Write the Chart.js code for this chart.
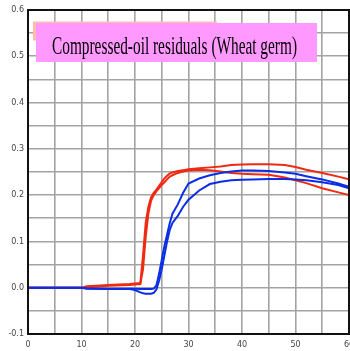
<!DOCTYPE html>
<html>
<head>
<meta charset="utf-8">
<script src="https://cdn.jsdelivr.net/npm/chart.js@4/dist/chart.umd.min.js"></script>
<style>
  html, body { margin: 0; padding: 0; background: #fff; }
  #wrap { width: 350px; height: 351px; position: relative; }
</style>
</head>
<body>
<div id="wrap"><canvas id="oilChart"></canvas></div>
<script>
// time axis shared by all four runs
const timePoints = [0, 10, 11, 15, 19, 20, 21, 21.5, 22, 22.5, 23, 23.5, 24, 24.5, 25, 25.5, 26, 26.5, 27, 28, 29, 30, 32, 34, 36, 38, 40, 42, 45, 48, 50, 52, 55, 58, 60];

// red runs
const redUpper = [0, 0, 0.003, 0.006, 0.008, 0.009, 0.010, 0.07, 0.14, 0.175, 0.195, 0.205, 0.212, 0.220, 0.228, 0.236, 0.242, 0.247, 0.249, 0.252, 0.254, 0.256, 0.258, 0.260, 0.262, 0.265, 0.266, 0.267, 0.267, 0.265, 0.261, 0.255, 0.248, 0.240, 0.234];
const redLower = [0, 0, 0.001, 0.004, 0.006, 0.007, 0.008, 0.04, 0.11, 0.16, 0.188, 0.200, 0.208, 0.215, 0.222, 0.228, 0.234, 0.240, 0.243, 0.248, 0.251, 0.253, 0.255, 0.254, 0.251, 0.248, 0.246, 0.245, 0.244, 0.238, 0.232, 0.226, 0.215, 0.206, 0.200];

// blue runs
const blueUpper = [0, 0, -0.002, -0.003, -0.002, -0.002, -0.003, -0.003, -0.003, -0.003, -0.003, -0.002, 0.005, 0.03, 0.06, 0.09, 0.115, 0.14, 0.16, 0.18, 0.205, 0.225, 0.236, 0.243, 0.248, 0.251, 0.253, 0.253, 0.252, 0.249, 0.246, 0.241, 0.234, 0.225, 0.218];
const blueLower = [0, 0, -0.001, -0.002, -0.003, -0.005, -0.010, -0.012, -0.013, -0.013, -0.013, -0.011, -0.004, 0.015, 0.04, 0.07, 0.10, 0.125, 0.14, 0.155, 0.175, 0.19, 0.21, 0.224, 0.229, 0.232, 0.233, 0.234, 0.235, 0.235, 0.234, 0.232, 0.228, 0.222, 0.215];

const titleText = 'Compressed-oil residuals (Wheat germ)';

const RED = '#f02a12';
const BLUE = '#0b2de6';

function toXY(vals) {
    return vals.map((v, i) => ({ x: timePoints[i], y: v }));
}

function lineSet(vals, color) {
    return {
        data: toXY(vals),
        borderColor: color,
        borderWidth: 2,
        pointRadius: 0,
        fill: false,
        tension: 0
    };
}

// black frame round the plot area
const frame = {
    id: 'frame',
    afterDatasetsDraw(chart) {
        const a = chart.chartArea;
        const ctx = chart.ctx;
        ctx.save();
        ctx.strokeStyle = '#111';
        ctx.lineWidth = 2;
        ctx.strokeRect(a.left, a.top, a.right - a.left, a.bottom - a.top);
        ctx.restore();
    }
};

// pink label box with its offset backing strip
const titleBox = {
    id: 'titleBox',
    afterDraw(chart) {
        const ctx = chart.ctx;
        const a = chart.chartArea;
        ctx.save();
        ctx.fillStyle = '#ffbcae';
        ctx.fillRect(a.left + 5, 21.5, 184, 19);
        ctx.fillStyle = '#ff99ff';
        ctx.fillRect(a.left + 8, 23, 281, 39);
        ctx.fillStyle = '#000';
        ctx.font = '25px "Liberation Serif", "Times New Roman", serif';
        ctx.textBaseline = 'alphabetic';
        const w = ctx.measureText(titleText).width;
        ctx.translate(a.left + 24, 54);
        ctx.scale(245 / w, 1);
        ctx.fillText(titleText, 0, 0);
        ctx.restore();
    }
};

const ctx = document.getElementById('oilChart').getContext('2d');
new Chart(ctx, {
    type: 'line',
    data: {
        datasets: [
            lineSet(blueUpper, BLUE),
            lineSet(blueLower, BLUE),
            lineSet(redUpper, RED),
            lineSet(redLower, RED)
        ]
    },
    options: {
        responsive: true,
        maintainAspectRatio: false,
        animation: false,
        layout: { padding: { top: 10, right: 1, left: 0, bottom: 0 } },
        plugins: {
            legend: { display: false },
            tooltip: { enabled: false }
        },
        scales: {
            x: {
                type: 'linear',
                min: 0,
                max: 60,
                ticks: {
                    stepSize: 5,
                    autoSkip: false,
                    maxRotation: 0,
                    padding: 6,
                    color: '#444',
                    font: { family: 'DejaVu Sans', size: 8 },
                    callback: v => (v % 10 === 0 ? String(v) : '')
                },
                grid: { color: '#a3a3a3', lineWidth: 1.6, drawTicks: false },
                border: { display: false },
                afterFit(scale) {
                    scale.height = 17;
                    // let the last label run off the edge
                    scale.paddingLeft = 0;
                    scale.paddingRight = 0;
                }
            },
            y: {
                min: -0.1,
                max: 0.6,
                ticks: {
                    stepSize: 0.05,
                    autoSkip: false,
                    padding: 4,
                    color: '#444',
                    font: { family: 'DejaVu Sans', size: 8 },
                    callback: v => {
                        const r = Math.round(v * 100);
                        return r % 10 === 0 ? (r / 100).toFixed(1) : '';
                    }
                },
                grid: { color: '#a3a3a3', lineWidth: 1.6, drawTicks: false },
                border: { display: false },
                afterFit(scale) { scale.width = 28; }
            }
        }
    },
    plugins: [frame, titleBox]
});
</script>
</body>
</html>
